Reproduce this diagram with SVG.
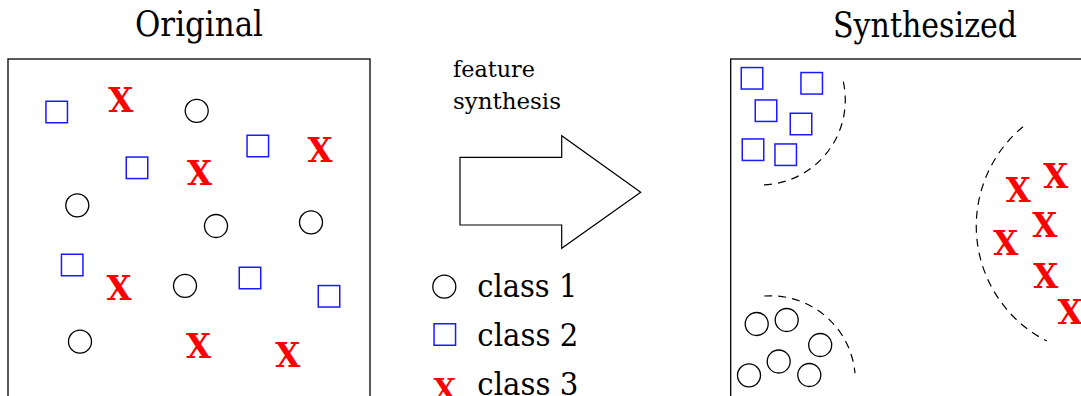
<svg xmlns="http://www.w3.org/2000/svg" xmlns:xlink="http://www.w3.org/1999/xlink" width="1081" height="396" viewBox="0 0 1081 396">
  <style>
    .frame { fill: none; stroke: #000; stroke-width: 1.3; }
    .title { font-family: "DejaVu Serif", serif; font-size: 36px; fill: #000; text-anchor: middle; }
    .label { font-family: "DejaVu Serif", serif; font-size: 23px; fill: #000; }
    .legend { font-family: "DejaVu Serif", serif; font-size: 32px; fill: #000; }
    .c1 { fill: none; stroke: #000; stroke-width: 1.3; }
    .c2 { fill: none; stroke: #1a1aff; stroke-width: 1.5; }
    .c3 { font-family: "DejaVu Serif", serif; font-weight: bold; font-size: 34px; fill: #ff0000; text-anchor: middle; }
    .bound { fill: none; stroke: #000; stroke-width: 1.2; stroke-dasharray: 8 6; }
    .arrow { fill: #fff; stroke: #000; stroke-width: 1.2; stroke-linejoin: miter; }
  </style>
  <defs>
    <circle id="dot1" r="11.5" class="c1"/>
    <rect id="sq2" x="-10.75" y="-10.75" width="21.5" height="21.5" class="c2"/>
  </defs>

  <!-- left panel: mixed samples -->
  <g id="original">
    <text class="title" x="199" y="35.5" textLength="128" lengthAdjust="spacingAndGlyphs">Original</text>
    <rect class="frame" x="8" y="59" width="362" height="360"/>
    <g id="original-class1">
      <use xlink:href="#dot1" x="196.7" y="110.8"/>
      <use xlink:href="#dot1" x="77.3" y="205.3"/>
      <use xlink:href="#dot1" x="216" y="226"/>
      <use xlink:href="#dot1" x="311" y="222.3"/>
      <use xlink:href="#dot1" x="185" y="285.8"/>
      <use xlink:href="#dot1" x="80" y="341.7"/>
    </g>
    <g id="original-class2">
      <use xlink:href="#sq2" x="56.7" y="112"/>
      <use xlink:href="#sq2" x="257.8" y="146"/>
      <use xlink:href="#sq2" x="137" y="167.8"/>
      <use xlink:href="#sq2" x="72.2" y="265"/>
      <use xlink:href="#sq2" x="250" y="278"/>
      <use xlink:href="#sq2" x="329" y="296.3"/>
    </g>
    <g id="original-class3">
      <text class="c3" x="120.8" y="111.7" textLength="25" lengthAdjust="spacingAndGlyphs">X</text>
      <text class="c3" x="320" y="161.7" textLength="25" lengthAdjust="spacingAndGlyphs">X</text>
      <text class="c3" x="199.5" y="185" textLength="25" lengthAdjust="spacingAndGlyphs">X</text>
      <text class="c3" x="119" y="300.3" textLength="25" lengthAdjust="spacingAndGlyphs">X</text>
      <text class="c3" x="198.5" y="358" textLength="25" lengthAdjust="spacingAndGlyphs">X</text>
      <text class="c3" x="287.8" y="366.7" textLength="25" lengthAdjust="spacingAndGlyphs">X</text>
    </g>
  </g>

  <!-- transformation arrow -->
  <g id="synthesis-step">
    <text class="label" x="453" y="76.7" textLength="82" lengthAdjust="spacingAndGlyphs">feature</text>
    <text class="label" x="453" y="109.3" textLength="108" lengthAdjust="spacingAndGlyphs">synthesis</text>
    <path class="arrow" d="M460,157.3 H561.7 V135.7 L640.7,192.3 L561.7,248.3 V225 H460 Z"/>
  </g>

  <!-- legend -->
  <g id="legend">
    <use xlink:href="#dot1" x="444.3" y="286.7"/>
    <text class="legend" x="477.3" y="297" textLength="100" lengthAdjust="spacingAndGlyphs">class 1</text>
    <use xlink:href="#sq2" x="444.8" y="334.5"/>
    <text class="legend" x="477.3" y="346" textLength="101" lengthAdjust="spacingAndGlyphs">class 2</text>
    <text class="c3" x="444.7" y="400" style="font-size:29px" textLength="22.5" lengthAdjust="spacingAndGlyphs">X</text>
    <text class="legend" x="477.3" y="394.5" textLength="101" lengthAdjust="spacingAndGlyphs">class 3</text>
  </g>

  <!-- right panel: separated clusters -->
  <g id="synthesized">
    <text class="title" x="925" y="36.5" textLength="184" lengthAdjust="spacingAndGlyphs">Synthesized</text>
    <rect class="frame" x="730.7" y="59" width="400" height="360"/>
    <g id="cluster-class2">
      <use xlink:href="#sq2" x="752" y="78.3"/>
      <use xlink:href="#sq2" x="811.7" y="83.3"/>
      <use xlink:href="#sq2" x="766" y="110.7"/>
      <use xlink:href="#sq2" x="801" y="124"/>
      <use xlink:href="#sq2" x="753" y="149.7"/>
      <use xlink:href="#sq2" x="785.7" y="154.7"/>
    </g>
    <g id="cluster-class3">
      <text class="c3" x="1018.3" y="202.3" textLength="25" lengthAdjust="spacingAndGlyphs">X</text>
      <text class="c3" x="1055.8" y="187.7" textLength="25" lengthAdjust="spacingAndGlyphs">X</text>
      <text class="c3" x="1044.8" y="237.3" textLength="25" lengthAdjust="spacingAndGlyphs">X</text>
      <text class="c3" x="1005.8" y="255" textLength="25" lengthAdjust="spacingAndGlyphs">X</text>
      <text class="c3" x="1045.8" y="287.7" textLength="25" lengthAdjust="spacingAndGlyphs">X</text>
      <text class="c3" x="1070" y="324" textLength="25" lengthAdjust="spacingAndGlyphs">X</text>
    </g>
    <g id="cluster-class1">
      <use xlink:href="#dot1" x="756.7" y="324"/>
      <use xlink:href="#dot1" x="786.7" y="320"/>
      <use xlink:href="#dot1" x="820.2" y="345"/>
      <use xlink:href="#dot1" x="778.7" y="361.5"/>
      <use xlink:href="#dot1" x="749" y="375.3"/>
      <use xlink:href="#dot1" x="809.3" y="375"/>
    </g>
  </g>

  <!-- dashed cluster boundaries -->
  <g id="connectors">
    <path class="bound" d="M843.3,81.7 A85,85 0 0 1 761,185"/>
    <path class="bound" d="M1023,126.7 A129,129 0 0 0 1046.7,341"/>
    <path class="bound" d="M764.3,296 A85,85 0 0 1 855,373.3"/>
  </g>
</svg>
